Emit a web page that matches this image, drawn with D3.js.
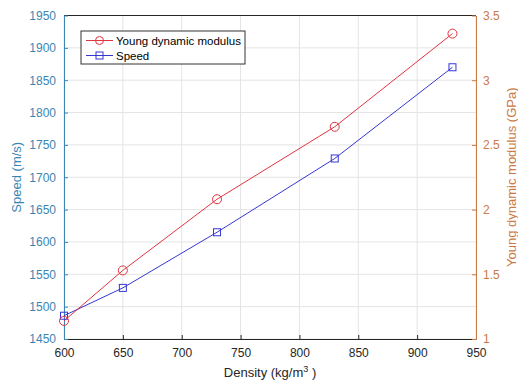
<!DOCTYPE html>
<html>
<head>
<meta charset="utf-8">
<script src="https://cdn.jsdelivr.net/npm/d3@7"></script>
<style>
body { margin: 0; background: #fff; }
svg { font-family: "Liberation Sans", Arial, sans-serif; }
</style>
</head>
<body>
<script>
// density values and the two measured series
var density = [600, 650, 730, 830, 930];
var speed = [1486, 1529, 1615, 1729, 1870];
var young = [1.14, 1.53, 2.08, 2.64, 3.36];

var xTicks = [600, 650, 700, 750, 800, 850, 900, 950];
var speedTicks = [1450, 1500, 1550, 1600, 1650, 1700, 1750, 1800, 1850, 1900, 1950];
var youngTicks = [1, 1.5, 2, 2.5, 3, 3.5];

var W = 518, H = 381;
var plotL = 64, plotR = 476, plotT = 15.5, plotB = 339;

var blue = "#3a86b3", orange = "#c97a45";
var redLine = "#e2343f", blueLine = "#3636d6";

var svg = d3.select("body").append("svg").attr("width", W).attr("height", H);

var x = d3.scaleLinear().domain([600, 950]).range([plotL, plotR]);
var yL = d3.scaleLinear().domain([1450, 1950]).range([plotB, plotT]);
var yR = d3.scaleLinear().domain([1, 3.5]).range([plotB, plotT]);

// grid
svg.append("g").selectAll("line").data(xTicks).enter().append("line")
  .attr("x1", d => x(d)).attr("x2", d => x(d))
  .attr("y1", plotT).attr("y2", plotB)
  .attr("stroke", "#e4e4e4").attr("stroke-width", 1);
svg.append("g").selectAll("line").data(speedTicks).enter().append("line")
  .attr("x1", plotL).attr("x2", plotR)
  .attr("y1", d => yL(d)).attr("y2", d => yL(d))
  .attr("stroke", "#e4e4e4").attr("stroke-width", 1);

// top border
svg.append("line").attr("x1", plotL).attr("x2", plotR).attr("y1", plotT).attr("y2", plotT)
  .attr("stroke", "#262626").attr("stroke-width", 1);

// axes
var xAxis = d3.axisBottom(x).tickValues(xTicks).tickSizeInner(-4).tickSizeOuter(0).tickPadding(9);
var gx = svg.append("g").attr("transform", "translate(0," + plotB + ")").call(xAxis);
gx.select(".domain").attr("stroke", "#262626");
gx.selectAll("line").attr("stroke", "#262626");
gx.selectAll("text").attr("fill", "#262626").style("font-size", "12px");

var lAxis = d3.axisLeft(yL).tickValues(speedTicks).tickSizeInner(-4).tickSizeOuter(0).tickPadding(8)
  .tickFormat(d3.format("d"));
var gl = svg.append("g").attr("transform", "translate(" + plotL + ",0)").call(lAxis);
gl.select(".domain").attr("stroke", blue);
gl.selectAll("line").attr("stroke", blue);
gl.selectAll("text").attr("fill", blue).style("font-size", "12px");

var rAxis = d3.axisRight(yR).tickValues(youngTicks).tickSizeInner(-4).tickSizeOuter(0).tickPadding(7)
  .tickFormat(d3.format("~g"));
var gr = svg.append("g").attr("transform", "translate(" + plotR + ",0)").call(rAxis);
gr.select(".domain").attr("stroke", orange);
gr.selectAll("line").attr("stroke", orange);
gr.selectAll("text").attr("fill", orange).style("font-size", "12px");

// axis titles
svg.append("text").attr("transform", "translate(21," + (plotT + plotB) / 2 + ") rotate(-90)")
  .attr("text-anchor", "middle").attr("fill", blue).style("font-size", "13px").text("Speed (m/s)");
svg.append("text").attr("transform", "translate(516," + (plotT + plotB) / 2 + ") rotate(-90)")
  .attr("text-anchor", "middle").attr("fill", orange).style("font-size", "13px").text("Young dynamic modulus (GPa)");
var xt = svg.append("text").attr("x", (plotL + plotR) / 2).attr("y", 377)
  .attr("text-anchor", "middle").attr("fill", "#262626").style("font-size", "13px");
xt.append("tspan").text("Density (kg/m");
xt.append("tspan").attr("dy", -5).style("font-size", "9px").text("3");
xt.append("tspan").attr("dy", 5).text(" )");

// series
var pts = density.map((d, i) => ({d: d, s: speed[i], y: young[i]}));

svg.append("path").datum(pts)
  .attr("d", d3.line().x(p => x(p.d)).y(p => yL(p.s)))
  .attr("fill", "none").attr("stroke", blueLine).attr("stroke-width", 1);
svg.append("g").selectAll("rect").data(pts).enter().append("rect")
  .attr("x", p => x(p.d) - 3.5).attr("y", p => yL(p.s) - 3.5)
  .attr("width", 7).attr("height", 7)
  .attr("fill", "none").attr("stroke", blueLine).attr("stroke-width", 1);

svg.append("path").datum(pts)
  .attr("d", d3.line().x(p => x(p.d)).y(p => yR(p.y)))
  .attr("fill", "none").attr("stroke", redLine).attr("stroke-width", 1);
svg.append("g").selectAll("circle").data(pts).enter().append("circle")
  .attr("cx", p => x(p.d)).attr("cy", p => yR(p.y)).attr("r", 4.5)
  .attr("fill", "none").attr("stroke", redLine).attr("stroke-width", 1);

// legend
var lg = svg.append("g").attr("transform", "translate(81,31)");
lg.append("rect").attr("width", 164).attr("height", 33)
  .attr("fill", "#fff").attr("stroke", "#333").attr("stroke-width", 1);
var items = [{name: "Young dynamic modulus", c: redLine, m: "circle"},
             {name: "Speed", c: blueLine, m: "square"}];
items.forEach(function(it, i) {
  var cy = 9.5 + i * 15;
  lg.append("line").attr("x1", 5).attr("x2", 32).attr("y1", cy).attr("y2", cy)
    .attr("stroke", it.c).attr("stroke-width", 1);
  if (it.m == "circle") {
    lg.append("circle").attr("cx", 18.5).attr("cy", cy).attr("r", 4)
      .attr("fill", "none").attr("stroke", it.c);
  } else {
    lg.append("rect").attr("x", 15).attr("y", cy - 3.5).attr("width", 7).attr("height", 7)
      .attr("fill", "none").attr("stroke", it.c);
  }
  lg.append("text").attr("x", 35).attr("y", cy + 4).attr("fill", "#000")
    .style("font-size", "11.5px").text(it.name);
});
</script>
</body>
</html>
